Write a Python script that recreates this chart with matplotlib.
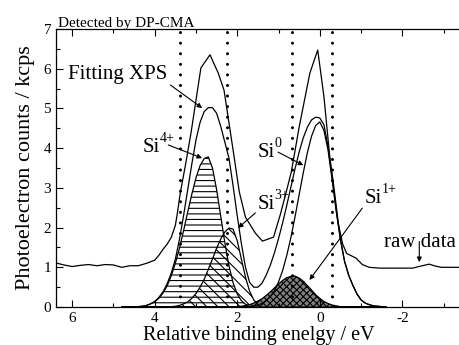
import matplotlib
matplotlib.use("Agg")
import matplotlib.pyplot as plt
import numpy as np

plt.rcParams['font.family'] = ['Liberation Serif', 'DejaVu Serif']
plt.rcParams['axes.unicode_minus'] = False
plt.rcParams['hatch.linewidth'] = 0.8

# Binding energy grid for fitted components (eV)
energy = [4.8, 4.7, 4.6, 4.5, 4.4, 4.3, 4.2, 4.1, 4.0,
          3.9, 3.8, 3.7, 3.6, 3.5, 3.4, 3.3, 3.2, 3.1, 3.0,
          2.9, 2.8, 2.7, 2.6, 2.5, 2.4, 2.3, 2.2, 2.1, 2.0,
          1.9, 1.8, 1.7, 1.6, 1.5, 1.4, 1.3, 1.2, 1.1, 1.0,
          0.9, 0.8, 0.7, 0.6, 0.5, 0.4, 0.3, 0.2, 0.1, 0.0,
          -0.1, -0.2, -0.3, -0.4, -0.5, -0.6, -0.7, -0.8, -0.9, -1.0,
          -1.1, -1.2, -1.3, -1.4, -1.5, -1.6]

si4 = [0.00, 0.00, 0.00, 0.01, 0.01, 0.02, 0.04, 0.08, 0.13,
       0.22, 0.35, 0.53, 0.78, 1.10, 1.48, 1.92, 2.39, 2.84, 3.25,
       3.56, 3.74, 3.78, 3.50, 2.96, 2.29, 1.62, 1.04, 0.61, 0.33,
       0.16, 0.07, 0.03, 0.01, 0, 0, 0, 0, 0, 0,
       0, 0, 0, 0, 0, 0, 0, 0, 0, 0,
       0, 0, 0, 0, 0, 0, 0, 0, 0, 0,
       0, 0, 0, 0, 0, 0]

si3 = [0, 0, 0, 0, 0, 0, 0, 0, 0,
       0, 0, 0, 0.01, 0.02, 0.04, 0.08, 0.13, 0.22, 0.34,
       0.50, 0.70, 0.95, 1.21, 1.48, 1.71, 1.89, 1.99, 1.96, 1.67,
       1.21, 0.75, 0.40, 0.18, 0.07, 0.02, 0.01, 0, 0, 0,
       0, 0, 0, 0, 0, 0, 0, 0, 0, 0,
       0, 0, 0, 0, 0, 0, 0, 0, 0, 0,
       0, 0, 0, 0, 0, 0]

si1 = [0, 0, 0, 0, 0, 0, 0, 0, 0,
       0, 0, 0, 0, 0, 0, 0, 0, 0, 0,
       0, 0, 0, 0, 0, 0, 0, 0, 0, 0.01,
       0.02, 0.04, 0.06, 0.10, 0.15, 0.21, 0.29, 0.38, 0.48, 0.58,
       0.67, 0.74, 0.77, 0.78, 0.73, 0.65, 0.54, 0.43, 0.31, 0.22,
       0.14, 0.09, 0.05, 0.03, 0.01, 0, 0, 0, 0, 0,
       0, 0, 0, 0, 0, 0]

si0 = [0, 0, 0, 0, 0, 0, 0, 0, 0,
       0, 0, 0, 0, 0, 0, 0, 0, 0, 0,
       0, 0, 0, 0, 0, 0, 0, 0, 0, 0,
       0.00, 0.01, 0.01, 0.03, 0.05, 0.09, 0.16, 0.26, 0.41, 0.63,
       0.92, 1.30, 1.75, 2.27, 2.83, 3.38, 3.89, 4.30, 4.57, 4.66,
       4.45, 3.95, 3.20, 2.40, 1.70, 1.15, 0.80, 0.55, 0.33, 0.18,
       0.10, 0.06, 0.03, 0.02, 0.01, 0.00]

fitting = [0.00, 0.00, 0.00, 0.01, 0.01, 0.02, 0.04, 0.08, 0.14,
           0.24, 0.38, 0.58, 0.85, 1.20, 1.70, 2.30, 2.95, 3.60, 4.20,
           4.65, 4.92, 5.02, 5.02, 4.88, 4.55, 4.15, 3.75, 3.05, 2.30,
           1.60, 1.00, 0.62, 0.50, 0.50, 0.60, 0.80, 1.05, 1.36, 1.72,
           2.12, 2.56, 3.02, 3.48, 3.90, 4.26, 4.53, 4.71, 4.78, 4.76,
           4.59, 4.04, 3.25, 2.43, 1.71, 1.15, 0.80, 0.55, 0.33, 0.18,
           0.10, 0.06, 0.03, 0.02, 0.01, 0.00]

# raw spectrum
raw_x = [6.39, 6.2, 6.0, 5.8, 5.6, 5.4, 5.2, 5.0, 4.8, 4.6,
         4.4, 4.2, 4.0, 3.9, 3.8, 3.7, 3.6, 3.5, 3.45, 3.38,
         3.25, 3.12, 2.88, 2.66, 2.46, 2.32, 2.10, 1.95, 1.80, 1.56,
         1.39, 1.12, 0.95, 0.80, 0.69, 0.50, 0.24, 0.05, -0.10, -0.24,
         -0.35, -0.45, -0.55, -0.65, -0.88, -1.03, -1.20, -1.45, -1.80, -2.25,
         -2.40, -2.65, -2.80, -2.95, -3.45]
raw_y = [1.11, 1.06, 1.02, 1.05, 1.07, 1.04, 1.07, 1.06, 1.00, 1.04,
         1.04, 1.10, 1.18, 1.30, 1.45, 1.58, 1.75, 2.05, 2.36, 2.87,
         3.60, 4.38, 6.02, 6.35, 5.89, 5.46, 3.95, 2.90, 2.26, 1.86,
         1.66, 1.76, 2.35, 2.95, 3.40, 4.53, 5.89, 6.47, 5.30, 3.80,
         2.95, 2.10, 1.60, 1.35, 1.23, 1.07, 1.00, 0.98, 0.98, 0.98,
         1.02, 1.08, 1.03, 1.00, 1.00]

# integration window boundaries
windows = [3.38, 2.24, 0.67, -0.30]

# peak labels: (name, superscript, x, y)
labels = [('Si', '4+', 4.30, 3.90),
          ('Si', '3+', 1.515, 2.47),
          ('Si', '0', 1.515, 3.78),
          ('Si', '1+', -1.08, 2.62)]

fig = plt.figure(figsize=(4.59, 3.45), dpi=100)
ax = fig.add_axes([0.122, 0.110, 0.885, 0.806])

ax.fill_between(energy, 0, si4, facecolor='none', edgecolor='black', hatch='---', lw=0.9)
ax.fill_between(energy, 0, si3, facecolor='none', edgecolor='black', hatch='\\\\\\', lw=0.9)
ax.fill_between(energy, 0, si1, facecolor='0.5', edgecolor='black', hatch='xxxxx', lw=0.9)

ax.plot(energy, si0, color='black', lw=0.9)
ax.plot(energy, fitting, color='black', lw=0.9)
ax.plot(raw_x, raw_y, color='black', lw=0.9)

for w in windows:
    ax.axvline(w, color='black', lw=2.2, linestyle=(0, (0.01, 3.45)), dash_capstyle='round')

arrow = dict(arrowstyle='-|>', color='black', lw=0.8, mutation_scale=7, shrinkA=0, shrinkB=0)
ax.annotate('', xy=(2.85, 5.01), xytext=(3.62, 5.59), arrowprops=arrow)
ax.annotate('', xy=(2.85, 3.75), xytext=(3.67, 4.08), arrowprops=arrow)
ax.annotate('', xy=(1.98, 1.99), xytext=(1.56, 2.37), arrowprops=arrow)
ax.annotate('', xy=(0.40, 3.57), xytext=(1.01, 3.90), arrowprops=arrow)
ax.annotate('', xy=(0.25, 0.68), xytext=(-1.03, 2.49), arrowprops=arrow)
ax.annotate('', xy=(-2.41, 1.13), xytext=(-2.41, 1.65), arrowprops=arrow)

ax.text(6.10, 5.74, 'Fitting XPS', fontsize=15, ha='left', va='baseline')
for name, sup, lx, ly in labels:
    ax.text(lx, ly, name, fontsize=15, ha='left', va='baseline')
    ax.annotate(sup, xy=(lx, ly), xytext=(12.5, 7), textcoords='offset points',
                fontsize=10, ha='left', va='baseline')
ax.text(-1.56, 1.51, 'raw data', fontsize=15, ha='left', va='baseline')

fig.text(58 / 459, 1 - 27 / 345, 'Detected by DP-CMA', fontsize=11, ha='left', va='baseline')

ax.set_xlim(6.39, -3.45)
ax.set_ylim(0, 7)
ax.set_xticks([6, 4, 2, 0, -2])
ax.set_xticks([5, 3, 1, -1, -3], minor=True)
ax.set_yticks(range(0, 8))
ax.set_yticks(np.arange(0.5, 7, 1.0), minor=True)
ax.tick_params(which='both', direction='in', top=True, right=False, labelsize=11, width=0.8)
ax.tick_params(which='major', length=5)
ax.tick_params(which='minor', length=3)
ax.spines['right'].set_visible(False)
for s in ['left', 'bottom', 'top']:
    ax.spines[s].set_linewidth(0.9)

ax.set_xlabel('Relative binding enelgy / eV', fontsize=14.5, labelpad=1)
ax.set_ylabel('Photoelectron counts / kcps', fontsize=16, labelpad=6)

fig.savefig('out.png', dpi=100)
